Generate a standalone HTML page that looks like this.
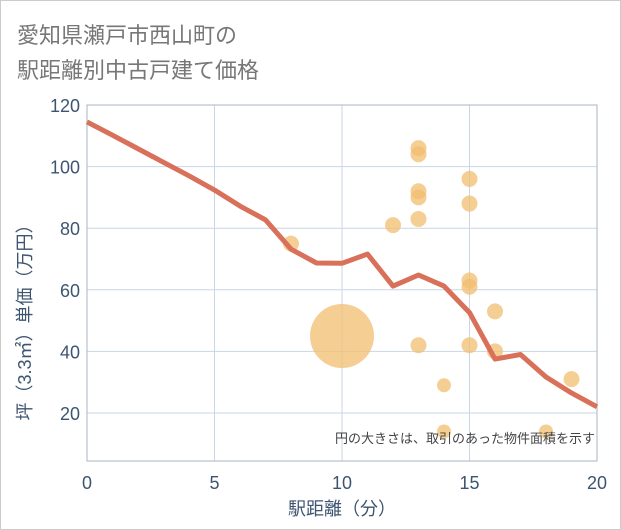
<!DOCTYPE html>
<html><head><meta charset="utf-8"><style>
body{margin:0;background:#fff;font-family:"Liberation Sans","Noto Sans CJK JP",sans-serif}
#wrap{position:relative;width:619px;height:528px;border:1px solid #ccc;background:#fff}
.title{position:absolute;left:16px;top:17px;font-size:22px;line-height:35px;color:#777}
</style></head><body>
<div id="wrap">
<div class="title">愛知県瀬戸市西山町の<br>駅距離別中古戸建て価格</div>
<svg id="c" width="621" height="530" style="position:absolute;left:-1px;top:-1px"></svg>
</div>
<script>
const lineX=[0,1,2,3,4,5,6,7,8,9,10,11,12,13,14,15,16,17,18,19,20];
const lineY=[114.5,110.2,105.8,101.4,97,92.4,87.2,82.7,73.2,68.7,68.6,71.6,61.2,64.8,61.2,52.6,37.5,39,31.7,26.5,22];
const bubX=[8,10,12,13,13,13,13,13,13,14,14,15,15,15,15,15,16,16,18,19];
const bubY=[75,45,81,106,104,92,90,83,42,29,14,96,88,63,61,42,53,40,14,31];
const bubR=[8,32,8,8,8,8,8,8,8,7,7,8,8,8,8,8,8,8,7,8];
const xTicks=[0,5,10,15,20];
const yTicks=[20,40,60,80,100,120];
const L=87,R=597,T=105,B=461;
const sx=v=>L+(v/20)*(R-L);
const sy=v=>413-(v-20)*3.08;
const svg=document.getElementById('c');const NS='http://www.w3.org/2000/svg';
function mk(t,a,p){const e=document.createElementNS(NS,t);for(const k in a)e.setAttribute(k,a[k]);(p||svg).appendChild(e);return e;}
const g=mk('g',{});


for(const v of xTicks){const l=mk('line',{x1:sx(v),x2:sx(v),y1:T,y2:B,stroke:'#c9d6e6','stroke-width':1},g);


const t=mk('text',{x:sx(v),y:489,'text-anchor':'middle','font-size':18,fill:'#3d5570'});t.textContent=v;

}
for(const v of yTicks){const l=mk('line',{x1:L,x2:R,y1:sy(v),y2:sy(v),stroke:'#c9d6e6','stroke-width':1},g);


const t=mk('text',{x:80,y:sy(v)+7,'text-anchor':'end','font-size':18,fill:'#3d5570'});t.textContent=v;

}
const fr=mk('rect',{x:L,y:T,width:R-L,height:B-T,fill:'none',stroke:'#aab4c0','stroke-width':1});


for(let i=0;i<bubX.length;i++){const c=mk('circle',{cx:sx(bubX[i]),cy:sy(bubY[i]),r:bubR[i],fill:'#f2be70','fill-opacity':0.75});

}
const pl=mk('polyline',{points:lineX.map((x,i)=>sx(x)+','+sy(lineY[i])).join(' '),fill:'none',stroke:'#d9705a','stroke-width':5,'stroke-linejoin':'round'});


const note=mk('text',{x:595,y:443,'text-anchor':'end','font-size':13,fill:'#444'});note.textContent='円の大きさは、取引のあった物件面積を示す';


const xt=mk('text',{x:342,y:515,'text-anchor':'middle','font-size':18,fill:'#3d5570'});xt.textContent='駅距離（分）';


const yt=mk('text',{x:0,y:0,'text-anchor':'middle','font-size':18,fill:'#3d5570',transform:'translate(31,318) rotate(-90)'});yt.textContent='坪（3.3㎡）単価（万円）';


</script>
</body></html>
